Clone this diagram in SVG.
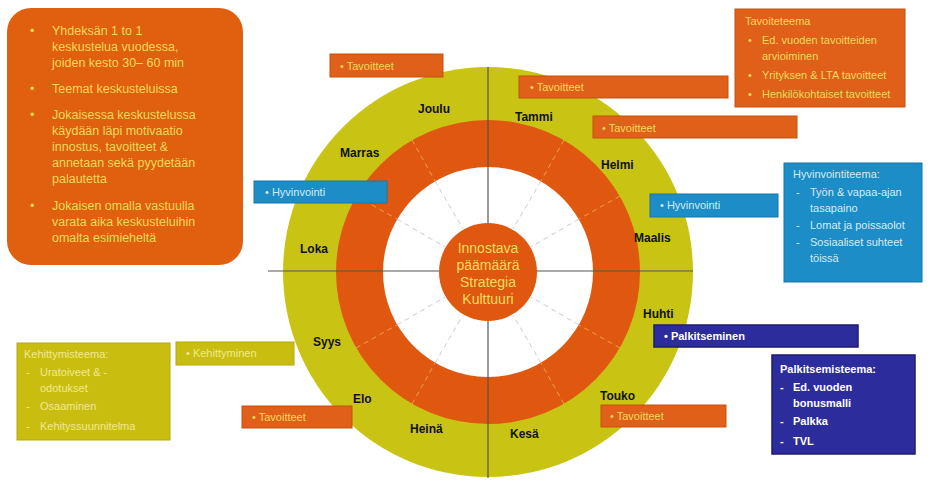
<svg xmlns="http://www.w3.org/2000/svg" width="934" height="482" viewBox="0 0 934 482">
<defs>
<style>
text{font-family:"Liberation Sans",Arial,sans-serif}
.obox{fill:#E0601A;stroke:#C4500E;stroke-width:1}
.otxt{fill:#F3D95A;font-size:12.5px}
.osm{fill:#F3D95A;font-size:11px}
.bbox{fill:#1C8DC6;stroke:#1676A8;stroke-width:1}
.btxt{fill:#D4ECF4;font-size:11px}
.ybox{fill:#C9BE10;stroke:#B5A80A;stroke-width:1}
.ytxt{fill:#F2E890;font-size:11px}
.pbox{fill:#2C2C9C;stroke:#1C1C70;stroke-width:1.5}
.ptxt{fill:#FFFFFF;font-size:11px;font-weight:bold}
.mon{fill:#111;font-size:12px;font-weight:bold}
.ctr{fill:#F6DC60;font-size:14px;text-anchor:middle}
.sp{stroke:#C8C8D8;stroke-width:1;stroke-dasharray:5 4}
.spo{stroke:#F0A040;stroke-width:1;stroke-dasharray:5 4}
</style>
</defs>

<g id="wheel">
<circle cx="488" cy="272" r="205" fill="#C9C414"/>
<circle cx="488" cy="272" r="152" fill="#E0580F"/>
<circle cx="488" cy="272" r="105" fill="#FFFFFF"/>
<g id="spokes">
<line class="spo" x1="564" y1="140" x2="541" y2="181"/>
<line class="spo" x1="620" y1="196" x2="579" y2="219"/>
<line class="spo" x1="620" y1="348" x2="579" y2="325"/>
<line class="spo" x1="564" y1="404" x2="541" y2="363"/>
<line class="spo" x1="412" y1="404" x2="435" y2="363"/>
<line class="spo" x1="356" y1="348" x2="397" y2="325"/>
<line class="spo" x1="356" y1="196" x2="397" y2="219"/>
<line class="spo" x1="412" y1="140" x2="435" y2="181"/>
<line class="sp" x1="541" y1="181" x2="513" y2="229"/>
<line class="sp" x1="579" y1="219" x2="531" y2="247"/>
<line class="sp" x1="579" y1="325" x2="531" y2="297"/>
<line class="sp" x1="541" y1="363" x2="513" y2="315"/>
<line class="sp" x1="435" y1="363" x2="463" y2="315"/>
<line class="sp" x1="397" y1="325" x2="445" y2="297"/>
<line class="sp" x1="397" y1="219" x2="445" y2="247"/>
<line class="sp" x1="435" y1="181" x2="463" y2="229"/>
</g>
<line x1="268" y1="271" x2="693" y2="271" stroke="#555" stroke-width="1.2"/>
<line x1="488" y1="67" x2="488" y2="478" stroke="#555" stroke-width="1.2"/>
<circle cx="488" cy="272" r="49" fill="#E0580F"/>
</g>

<g id="center">
<text class="ctr" x="488" y="253">Innostava</text>
<text class="ctr" x="488" y="270">päämäärä</text>
<text class="ctr" x="488" y="287">Strategia</text>
<text class="ctr" x="488" y="304">Kulttuuri</text>
</g>

<g id="months">
<text class="mon" x="418" y="113">Joulu</text>
<text class="mon" x="515" y="121">Tammi</text>
<text class="mon" x="601" y="169">Helmi</text>
<text class="mon" x="634" y="242">Maalis</text>
<text class="mon" x="643" y="318">Huhti</text>
<text class="mon" x="600" y="400">Touko</text>
<text class="mon" x="510" y="438">Kesä</text>
<text class="mon" x="410" y="433">Heinä</text>
<text class="mon" x="353" y="403">Elo</text>
<text class="mon" x="313" y="346">Syys</text>
<text class="mon" x="300" y="253">Loka</text>
<text class="mon" x="340" y="157">Marras</text>
</g>

<g id="intro">
<rect x="7" y="8" width="236" height="257" rx="24" fill="#E0600F"/>
<g class="otxt">
<text x="30" y="35">•</text>
<text x="52" y="35">Yhdeksän 1 to 1</text>
<text x="52" y="51">keskustelua vuodessa,</text>
<text x="52" y="67">joiden kesto 30– 60 min</text>
<text x="30" y="93">•</text>
<text x="52" y="93">Teemat keskusteluissa</text>
<text x="30" y="119">•</text>
<text x="52" y="119">Jokaisessa keskustelussa</text>
<text x="52" y="135">käydään läpi motivaatio</text>
<text x="52" y="151">innostus, tavoitteet &amp;</text>
<text x="52" y="167">annetaan sekä pyydetään</text>
<text x="52" y="183">palautetta</text>
<text x="30" y="210">•</text>
<text x="52" y="210">Jokaisen omalla vastuulla</text>
<text x="52" y="226">varata aika keskusteluihin</text>
<text x="52" y="242">omalta esimieheltä</text>
</g>
</g>

<g id="tavoiteteema">
<rect class="obox" x="735" y="9" width="170" height="98"/>
<g class="osm">
<text x="745" y="25">Tavoiteteema</text>
<text x="748" y="44">•</text><text x="762" y="44">Ed. vuoden tavoitteiden</text>
<text x="762" y="60">arvioiminen</text>
<text x="748" y="79">•</text><text x="762" y="79">Yrityksen &amp; LTA tavoitteet</text>
<text x="748" y="98">•</text><text x="762" y="98">Henkilökohtaiset  tavoitteet</text>
</g>
</g>

<g id="tav1"><rect class="obox" x="330" y="54" width="113" height="23"/><text class="osm" x="340" y="70">•  Tavoitteet</text></g>
<g id="tav2"><rect class="obox" x="519" y="76" width="209" height="22"/><text class="osm" x="530" y="91">•  Tavoitteet</text></g>
<g id="tav3"><rect class="obox" x="593" y="116" width="204" height="22"/><text class="osm" x="602" y="132">•  Tavoitteet</text></g>
<g id="tav4"><rect class="obox" x="242" y="406" width="110" height="22"/><text class="osm" x="252" y="421">•  Tavoitteet</text></g>
<g id="tav5"><rect class="obox" x="601" y="405" width="125" height="22"/><text class="osm" x="610" y="420">•  Tavoitteet</text></g>

<g id="hyv1"><rect class="bbox" x="254" y="181" width="133" height="22"/><text class="btxt" x="265" y="196">•  Hyvinvointi</text></g>
<g id="hyv2"><rect class="bbox" x="650" y="194" width="128" height="23"/><text class="btxt" x="660" y="209">•  Hyvinvointi</text></g>

<g id="hyvinvointiteema">
<rect class="bbox" x="784" y="163" width="138" height="119"/>
<g class="btxt">
<text x="793" y="178">Hyvinvointiteema:</text>
<text x="796" y="196">-</text><text x="810" y="196">Työn &amp; vapaa-ajan</text>
<text x="810" y="212">tasapaino</text>
<text x="796" y="229">-</text><text x="810" y="229">Lomat ja poissaolot</text>
<text x="796" y="246">-</text><text x="810" y="246">Sosiaaliset suhteet</text>
<text x="810" y="262">töissä</text>
</g>
</g>

<g id="keh1"><rect class="ybox" x="176" y="342" width="118" height="23"/><text class="ytxt" x="186" y="357">•  Kehittyminen</text></g>

<g id="kehittymisteema">
<rect class="ybox" x="17" y="343" width="153" height="97"/>
<g class="ytxt">
<text x="24" y="358">Kehittymisteema:</text>
<text x="26" y="376">-</text><text x="40" y="376">Uratoiveet  &amp; -</text>
<text x="40" y="392">odotukset</text>
<text x="26" y="410">-</text><text x="40" y="410">Osaaminen</text>
<text x="26" y="430">-</text><text x="40" y="430">Kehityssuunnitelma</text>
</g>
</g>

<g id="palk1"><rect class="pbox" x="654" y="325" width="204" height="22"/><text class="ptxt" x="664" y="340">•  Palkitseminen</text></g>

<g id="palkitsemisteema">
<rect class="pbox" x="772" y="355" width="143" height="99"/>
<g class="ptxt">
<text x="780" y="373">Palkitsemisteema:</text>
<text x="780" y="391">-</text><text x="793" y="391">Ed. vuoden</text>
<text x="793" y="407">bonusmalli</text>
<text x="780" y="425">-</text><text x="793" y="425">Palkka</text>
<text x="780" y="445">-</text><text x="793" y="445">TVL</text>
</g>
</g>
</svg>
